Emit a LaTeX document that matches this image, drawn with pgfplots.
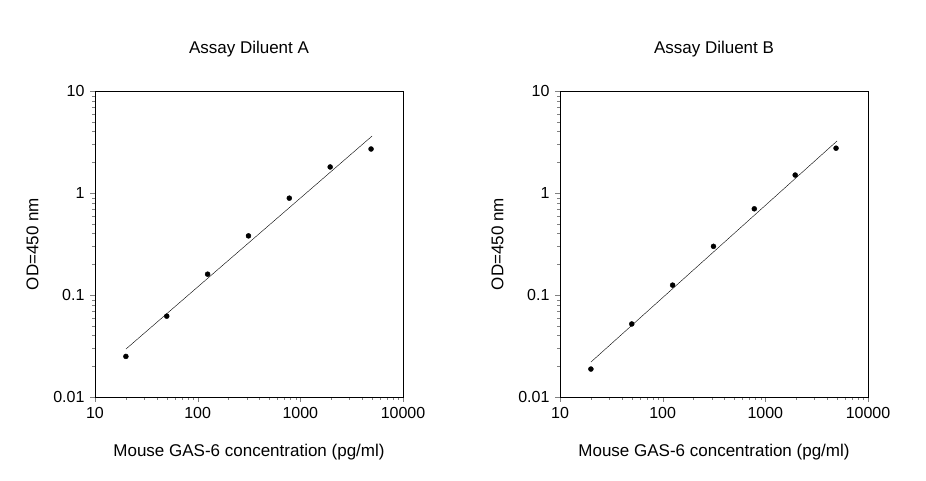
\documentclass[border=0pt]{standalone}
\usepackage{pgfplots}
\pgfplotsset{compat=1.18}
\usepackage{fontspec}
\setmainfont{Liberation Sans}
\begin{document}
\fontsize{16}{19}\selectfont
\begin{tikzpicture}
\useasboundingbox (0pt,0pt) rectangle (926pt,480pt);
\begin{axis}[
    xmode=log, ymode=log, scale only axis, width=308pt, height=306pt,
    xmin=10, xmax=10000, ymin=0.01, ymax=10,
    xtick={10,100,1000,10000}, xticklabels={10,100,1000,10000},
    ytick={0.01,0.1,1,10}, yticklabels={0.01,0.1,1,10},
    minor xtick={}, minor ytick={},
    tick align=outside, xtick pos=bottom, ytick pos=left,
    major tick length=5pt,
    tick label style={font=\fontsize{16}{19}\selectfont},
    label style={font=\fontsize{17}{20}\selectfont},
    title style={font=\fontsize{17}{20}\selectfont, yshift=22pt},
    xlabel={Mouse GAS-6 concentration (pg/ml)},
    ylabel={OD=450 nm},
    xlabel style={yshift=-14pt},
    ylabel style={yshift=4pt},
    anchor=south west, at={(95pt,83pt)}, title={Assay Diluent A}]
\addplot[only marks, mark=*, mark size=2.5pt, black] coordinates {
(20,0.025) (50,0.062) (125,0.16) (312.5,0.38) (781,0.89) (1953,1.8) (4883,2.7)};
\addplot[black, thin] coordinates {(20,0.0295) (5000,3.62)};
\end{axis}
\begin{axis}[
    xmode=log, ymode=log, scale only axis, width=308pt, height=306pt,
    xmin=10, xmax=10000, ymin=0.01, ymax=10,
    xtick={10,100,1000,10000}, xticklabels={10,100,1000,10000},
    ytick={0.01,0.1,1,10}, yticklabels={0.01,0.1,1,10},
    minor xtick={}, minor ytick={},
    tick align=outside, xtick pos=bottom, ytick pos=left,
    major tick length=5pt,
    tick label style={font=\fontsize{16}{19}\selectfont},
    label style={font=\fontsize{17}{20}\selectfont},
    title style={font=\fontsize{17}{20}\selectfont, yshift=22pt},
    xlabel={Mouse GAS-6 concentration (pg/ml)},
    ylabel={OD=450 nm},
    xlabel style={yshift=-14pt},
    ylabel style={yshift=4pt},
    anchor=south west, at={(560pt,83pt)}, title={Assay Diluent B}]
\addplot[only marks, mark=*, mark size=2.5pt, black] coordinates {
(20,0.0188) (50,0.052) (125,0.125) (312.5,0.30) (781,0.70) (1953,1.5) (4883,2.75)};
\addplot[black, thin] coordinates {(20,0.022) (5000,3.24)};
\end{axis}
\end{tikzpicture}
\end{document}
